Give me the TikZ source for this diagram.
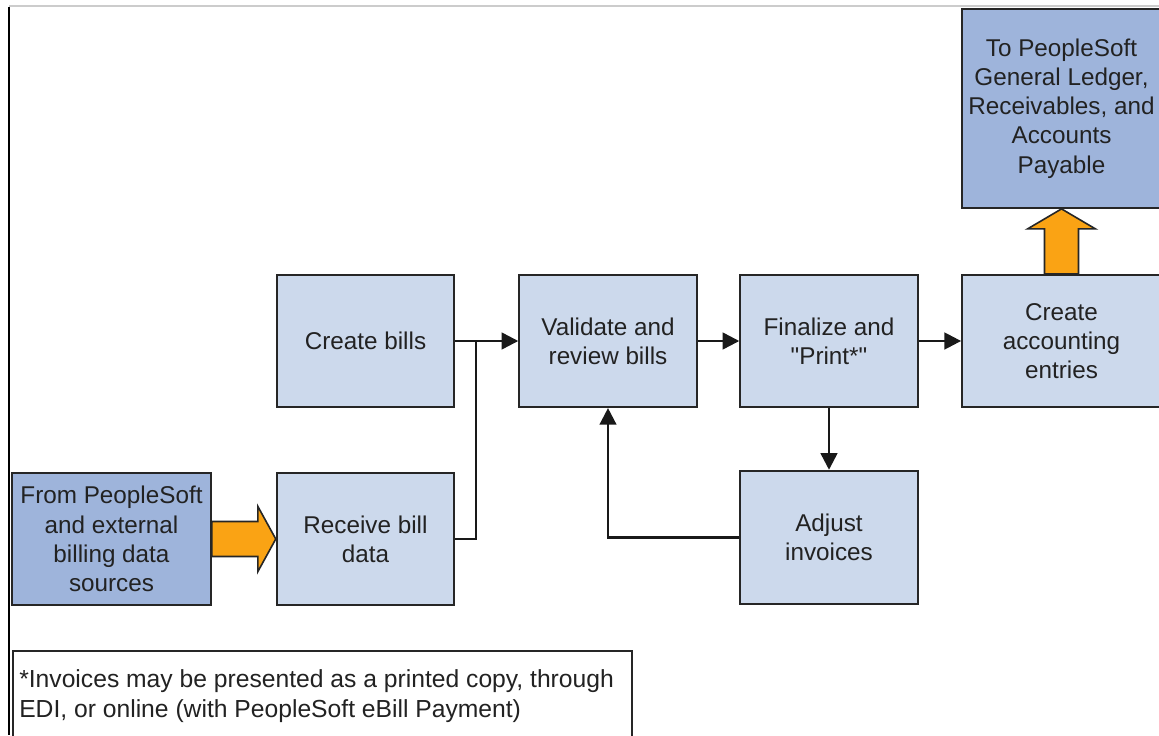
\documentclass[tikz,border=0pt]{standalone}
\usepackage{fontspec}
\setmainfont{Liberation Sans}[Ligatures=TeXOff]
\usetikzlibrary{arrows.meta,calc}
\definecolor{lightbox}{RGB}{204,217,236}
\definecolor{darkbox}{RGB}{158,180,219}
\definecolor{orangefill}{RGB}{250,163,20}
\definecolor{txt}{RGB}{34,34,34}
\tikzset{
  px/.style={x=0.75pt,y=-0.75pt},
  boxbase/.style={draw=black!85,line width=1.6pt,align=center,text=txt,inner sep=0pt,
    font=\fontsize{18.2}{21.9}\selectfont},
  lightnode/.style={boxbase,fill=lightbox,minimum width=133pt,minimum height=99pt},
  darknode/.style={boxbase,fill=darkbox},
  conn/.style={line width=1.85pt,draw=black!90},
  arr/.style={conn,-{Triangle[length=12.5pt,width=12.5pt]}},
  fat/.style={fill=orangefill,draw=black!85,line width=1.2pt,line join=miter},
}
\begin{document}
\begin{tikzpicture}[px]
\clip (0,0) rectangle (1159,735);
\fill[white] (0,0) rectangle (1159,735);
% frame lines
\draw[line width=1.2pt,draw=black!20] (9,6) -- (1159,6);
\draw[line width=1.3pt,draw=black] (9,7) -- (9,735);
% nodes
\node[lightnode] (create) at (365.5,341) {Create bills};
\node[lightnode] (validate) at (608,341) {Validate and\\review bills};
\node[lightnode] (finalize) at (829,341) {Finalize and\\"Print*"};
\node[lightnode,minimum width=149pt] (acct) at (1061.5,341) {Create\\accounting\\entries};
\node[darknode,minimum width=149pt,minimum height=149pt] (gl) at (1061.5,108.5) {To PeopleSoft\\General Ledger,\\Receivables, and\\Accounts\\Payable};
\node[darknode,minimum width=149pt,minimum height=99pt] (src) at (111.5,539) {From PeopleSoft\\and external\\billing data\\sources};
\node[lightnode] (receive) at (365.5,539) {Receive bill\\data};
\node[lightnode,minimum height=100pt] (adjust) at (829,537.5) {Adjust\\invoices};
\node[draw=black!85,line width=1.5pt,fill=white,minimum width=464pt,minimum height=80pt,
  anchor=north west,inner sep=0pt] (note) at (12,650) {};
\node[anchor=north west,align=left,text=txt,font=\fontsize{18.5}{22.5}\selectfont,inner sep=0pt]
  (notetext) at (19,669) {*Invoices may be presented as a printed copy, through\\EDI, or online (with PeopleSoft eBill Payment)};
% connectors
\coordinate (join) at (476,341);
\draw[arr] (create.east) -- (validate.west);
\draw[conn] (receive.east) -| (join);
\draw[arr] (validate.east) -- (finalize.west);
\draw[arr] (finalize.east) -- (acct.west);
\draw[arr] (finalize.south) -- (adjust.north);
\draw[arr] (adjust.west) -| (validate.south);
% fat orange arrows
\draw[fat] ($(src.east)+(0,-17.5)$) -- ++(46,0) -- ++(0,-15) -- (receive.west) -- ($(src.east)+(46,32.5)$) -- ++(0,-15) -- ($(src.east)+(0,17.5)$) -- cycle;
\draw[fat] ($(acct.north)+(-17,0)$) -- ++(0,-45) -- ++(-17,0) -- (gl.south) -- ($(acct.north)+(34,-45)$) -- ++(-17,0) -- ($(acct.north)+(17,0)$) -- cycle;
\end{tikzpicture}
\end{document}
